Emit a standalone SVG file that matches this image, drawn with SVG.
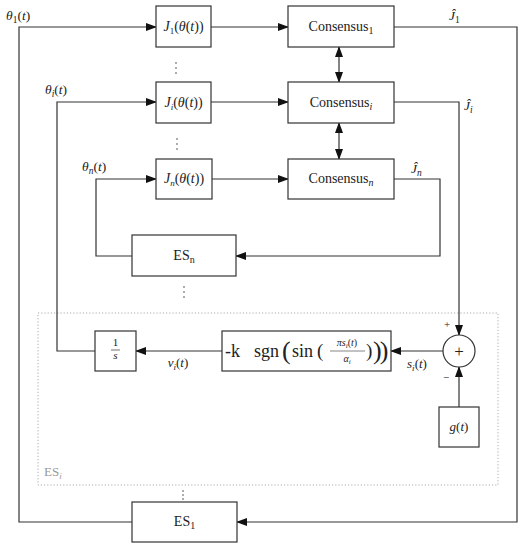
<svg xmlns="http://www.w3.org/2000/svg" width="522" height="550" viewBox="0 0 522 550" font-family="Liberation Serif, serif">
<style>
.box{fill:#fff;stroke:#333;stroke-width:1.2}
.ln{fill:none;stroke:#333;stroke-width:1.2}
.ar{marker-end:url(#ah)}
.bi{marker-start:url(#ah);marker-end:url(#ah)}
text{fill:#222}
.m{font-style:italic}
.lbl{font-size:13.5px}
.bl{font-size:14px;text-anchor:middle}
.dots{fill:#444}
.gray{fill:#999}
</style>
<defs>
<marker id="ah" markerUnits="userSpaceOnUse" markerWidth="11" markerHeight="8" refX="10" refY="4" orient="auto-start-reverse">
<path d="M0,0 L11,4 L0,8 z" fill="#111"/>
</marker>
</defs>
<rect x="0" y="0" width="522" height="550" fill="#fff"/>

<g id="es_i_frame">
<rect x="38" y="313" width="460" height="172" fill="none" stroke="#aaa" stroke-width="1" stroke-dasharray="1.2,2"/>
<text x="44" y="476" font-size="13" class="gray">ES<tspan class="m" font-size="9" dy="3">i</tspan></text>
</g>

<g id="connectors">
<path class="ln ar" d="M211,27 H288"/>
<path class="ln ar" d="M211,102 H288"/>
<path class="ln ar" d="M212,179 H288"/>
<path class="ln bi" d="M339,47 V82"/>
<path class="ln bi" d="M339,123 V159"/>
<path class="ln ar" d="M394,27 H517 V522 H237"/>
<path class="ln ar" d="M394,102 H459 V335"/>
<path class="ln ar" d="M394,179 H440 V256 H236"/>
<path class="ln ar" d="M132,256 H96 V179 H156"/>
<path class="ln ar" d="M132,522 H19 V27 H156"/>
<path class="ln ar" d="M95,351 H57 V102 H156"/>
<path class="ln ar" d="M222,351 H136"/>
<path class="ln ar" d="M443,351 H391"/>
<path class="ln ar" d="M459,407 V367"/>
</g>

<g id="labels">
<text x="6" y="20" class="lbl"><tspan class="m">θ</tspan><tspan font-size="9.5" dy="3">1</tspan><tspan dy="-3">(</tspan><tspan class="m">t</tspan>)</text>
<text x="45" y="94" class="lbl"><tspan class="m">θ</tspan><tspan class="m" font-size="9.5" dy="3">i</tspan><tspan dy="-3">(</tspan><tspan class="m">t</tspan>)</text>
<text x="82" y="171" class="lbl"><tspan class="m">θ</tspan><tspan class="m" font-size="9.5" dy="3">n</tspan><tspan dy="-3">(</tspan><tspan class="m">t</tspan>)</text>
<text x="449" y="20" class="lbl"><tspan class="m">Ĵ</tspan><tspan font-size="9.5" dy="3">1</tspan></text>
<text x="464" y="110" class="lbl"><tspan class="m">Ĵ</tspan><tspan class="m" font-size="9.5" dy="3">i</tspan></text>
<text x="411" y="173" class="lbl"><tspan class="m">Ĵ</tspan><tspan class="m" font-size="9.5" dy="3">n</tspan></text>
<text x="178" y="367" font-size="13" text-anchor="middle"><tspan class="m">v</tspan><tspan class="m" font-size="9" dy="3">i</tspan><tspan dy="-3">(</tspan><tspan class="m">t</tspan>)</text>
<text x="417" y="368" font-size="13" text-anchor="middle"><tspan class="m">s</tspan><tspan class="m" font-size="9" dy="3">i</tspan><tspan dy="-3">(</tspan><tspan class="m">t</tspan>)</text>
<text x="447" y="328" font-size="11" text-anchor="middle">+</text>
<text x="446" y="381" font-size="11" text-anchor="middle">−</text>
</g>

<g id="dots" class="dots">
<circle cx="176" cy="63" r="0.8"/><circle cx="176" cy="68" r="0.8"/><circle cx="176" cy="73" r="0.8"/>
<circle cx="177" cy="139" r="0.8"/><circle cx="177" cy="144" r="0.8"/><circle cx="177" cy="149" r="0.8"/>
<circle cx="184" cy="287" r="0.8"/><circle cx="184" cy="292" r="0.8"/><circle cx="184" cy="297" r="0.8"/>
<circle cx="183" cy="491" r="0.8"/><circle cx="183" cy="495" r="0.8"/><circle cx="183" cy="499" r="0.8"/>
</g>

<g id="J1">
<rect class="box" x="156" y="6" width="55" height="41"/>
<text x="183.5" y="31" class="bl" font-size="13"><tspan class="m">J</tspan><tspan font-size="9" dy="3">1</tspan><tspan dy="-3">(</tspan><tspan class="m">θ</tspan>(<tspan class="m">t</tspan>))</text>
</g>
<g id="Ji">
<rect class="box" x="156" y="82" width="55" height="41"/>
<text x="183.5" y="107" class="bl" font-size="13"><tspan class="m">J</tspan><tspan class="m" font-size="9" dy="3">i</tspan><tspan dy="-3">(</tspan><tspan class="m">θ</tspan>(<tspan class="m">t</tspan>))</text>
</g>
<g id="Jn">
<rect class="box" x="156" y="159" width="56" height="40"/>
<text x="184" y="183" class="bl" font-size="13"><tspan class="m">J</tspan><tspan class="m" font-size="9" dy="3">n</tspan><tspan dy="-3">(</tspan><tspan class="m">θ</tspan>(<tspan class="m">t</tspan>))</text>
</g>
<g id="Consensus1">
<rect class="box" x="288" y="6" width="106" height="41"/>
<text x="341" y="31" class="bl">Consensus<tspan font-size="10" dy="3">1</tspan></text>
</g>
<g id="Consensusi">
<rect class="box" x="288" y="82" width="106" height="41"/>
<text x="341" y="107" class="bl">Consensus<tspan class="m" font-size="10" dy="3">i</tspan></text>
</g>
<g id="Consensusn">
<rect class="box" x="288" y="159" width="106" height="40"/>
<text x="341" y="183" class="bl">Consensus<tspan class="m" font-size="10" dy="3">n</tspan></text>
</g>
<g id="ESn">
<rect class="box" x="132" y="235" width="104" height="41"/>
<text x="184" y="260" class="bl">ES<tspan font-size="10" dy="3">n</tspan></text>
</g>
<g id="ES1">
<rect class="box" x="132" y="502" width="105" height="40"/>
<text x="184.5" y="526" class="bl">ES<tspan font-size="10" dy="3">1</tspan></text>
</g>
<g id="integrator">
<rect class="box" x="95" y="331" width="41" height="40"/>
<text x="115.5" y="346" font-size="11" text-anchor="middle">1</text>
<line x1="111" y1="350" x2="120" y2="350" stroke="#333" stroke-width="0.7"/>
<text x="115.5" y="359" font-size="11" class="m" text-anchor="middle">s</text>
</g>
<g id="controller">
<rect class="box" x="222" y="331" width="169" height="40"/>
<text x="225" y="357" font-size="18">-k</text>
<text x="254" y="357" font-size="18">sgn</text>
<text x="282" y="359" font-size="26">(</text>
<text x="292" y="357" font-size="18">sin</text>
<text x="317" y="357" font-size="19" fill="#444">(</text>
<text x="347" y="346" font-size="10" text-anchor="middle"><tspan class="m">πs</tspan><tspan class="m" font-size="7" dy="2">i</tspan><tspan dy="-2">(</tspan><tspan class="m">t</tspan>)</text>
<line x1="330" y1="351" x2="365" y2="351" stroke="#333" stroke-width="0.6"/>
<text x="347" y="362" font-size="10" text-anchor="middle"><tspan class="m">α</tspan><tspan class="m" font-size="7" dy="2">i</tspan></text>
<text x="366" y="357" font-size="19" fill="#444">)</text>
<text x="373" y="359" font-size="26" letter-spacing="-2">))</text>
</g>
<g id="sum">
<circle cx="459" cy="351" r="16" fill="#fff" stroke="#333" stroke-width="1.2"/>
<text x="459" y="357" font-size="17" text-anchor="middle">+</text>
</g>
<g id="g">
<rect class="box" x="439" y="407" width="40" height="40"/>
<text x="459" y="431" font-size="13" text-anchor="middle"><tspan class="m">g</tspan>(<tspan class="m">t</tspan>)</text>
</g>
</svg>
